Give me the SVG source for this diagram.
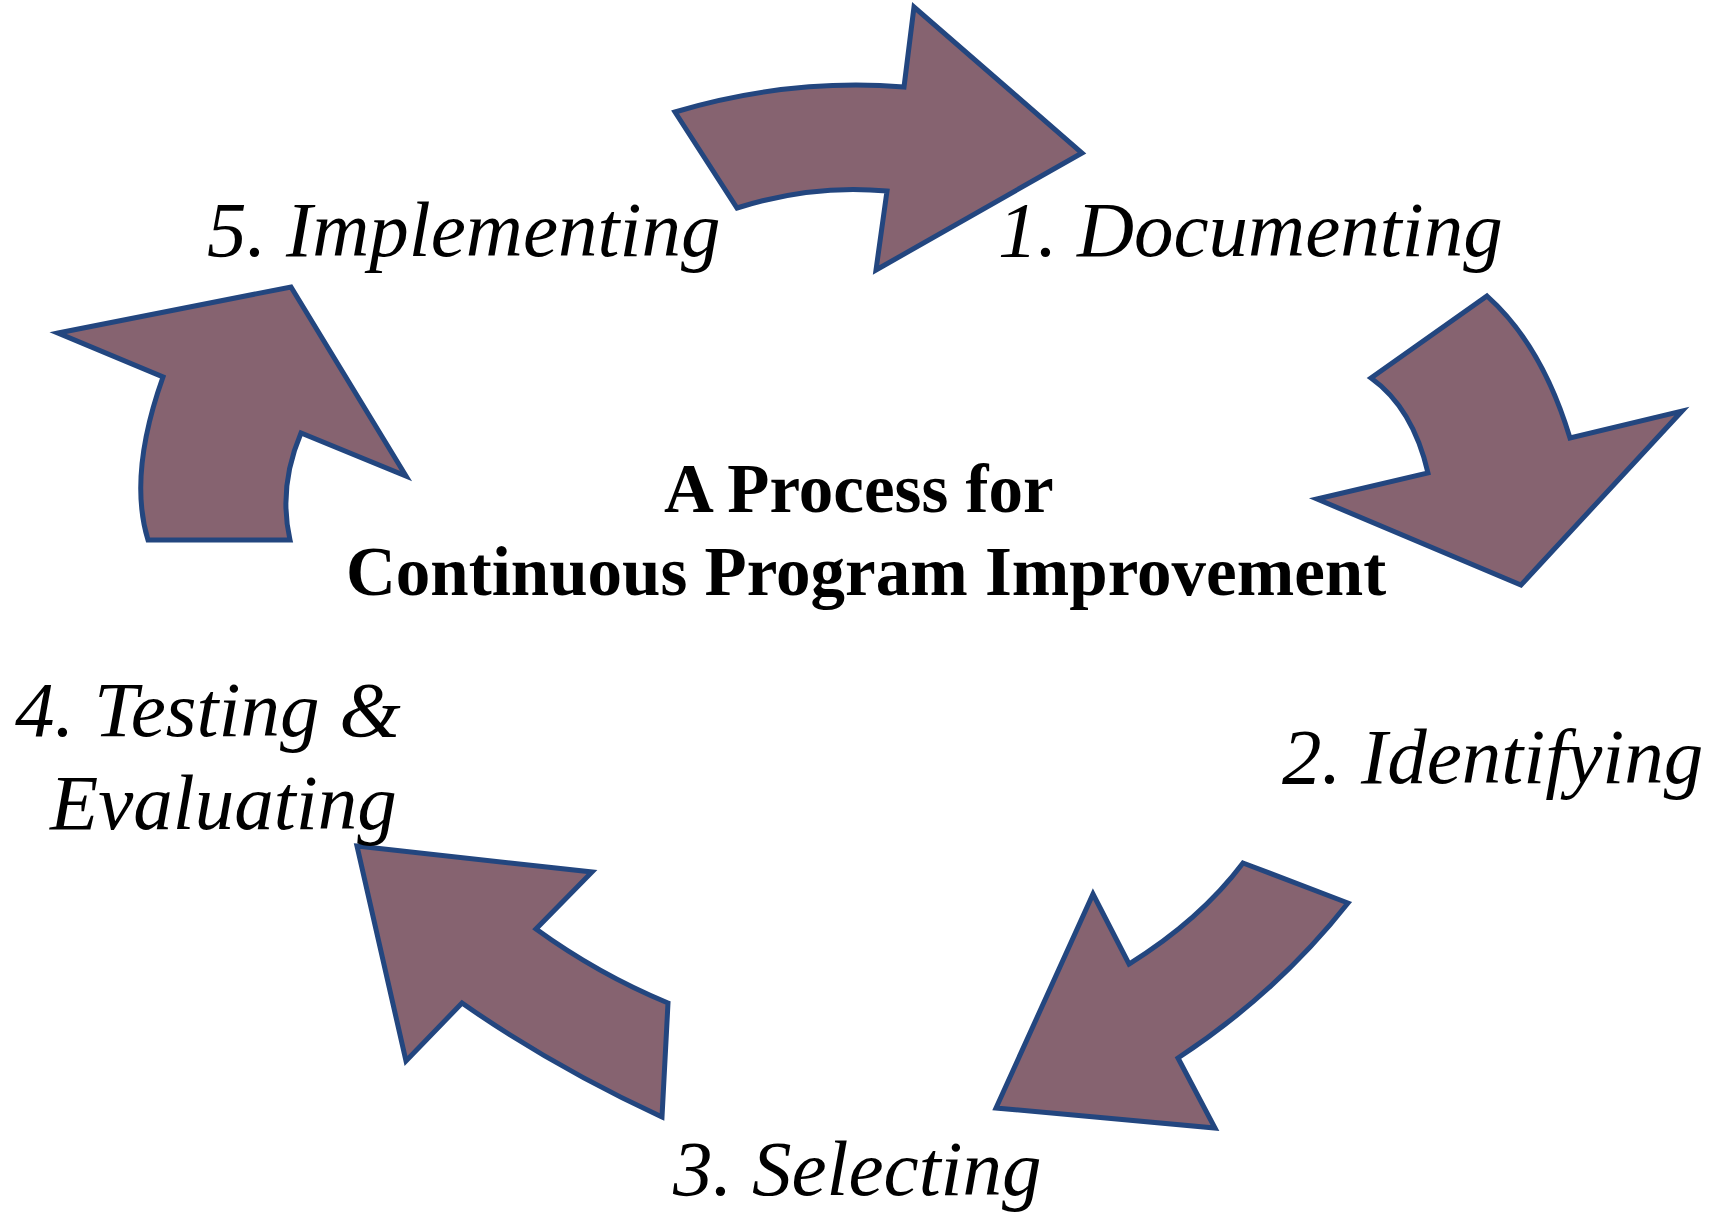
<svg xmlns="http://www.w3.org/2000/svg" width="1723" height="1218" viewBox="0 0 1723 1218">
<style>
.arrow{fill:#866370;stroke:#23467F;stroke-width:5;stroke-linejoin:miter}
.lbl{font-family:"Liberation Serif","Times New Roman",serif;font-style:italic;font-size:79px;fill:#000}
.title{font-family:"Liberation Serif","Times New Roman",serif;font-weight:bold;font-size:69px;fill:#000}
</style>
<rect width="1723" height="1218" fill="#fff"/>
<g id="connectors">
<path id="arrow-5-1" class="arrow" d="M675,112 Q789,78 904,87 L914,7 L1082,153 L876,270 L887,191 Q812,184 737,208 Z"/>
<path id="arrow-1-2" class="arrow" d="M1487,296 Q1542,345 1570,438 L1682,411 L1521,585 L1317,499 L1428,473 Q1413,408 1371,378 Z"/>
<path id="arrow-2-3" class="arrow" d="M1243,863 L1348,903 Q1277,993 1178,1058 L1215,1128 L996,1108 L1093,894 L1129,964 Q1200,920 1243,863 Z"/>
<path id="arrow-3-4" class="arrow" d="M357,846 L592,872 L536,929 Q598,974 668,1003 L662,1117 Q552,1066 462,1003 L406,1061 Z"/>
<path id="arrow-4-5" class="arrow" d="M58,333 L291,287 L406,476 L301,433 Q278,487 290,540 L148,540 Q128,475 163,377 Z"/>
</g>
<g id="title">
<text class="title" x="664" y="512">A Process for</text>
<text class="title" x="346" y="595">Continuous Program Improvement</text>
</g>
<g id="node-1"><text class="lbl" x="998" y="256">1. Documenting</text></g>
<g id="node-2"><text class="lbl" x="1282" y="783">2. Identifying</text></g>
<g id="node-3"><text class="lbl" x="673" y="1195">3. Selecting</text></g>
<g id="node-4"><text class="lbl" x="15" y="736">4. Testing &amp;</text><text class="lbl" x="50" y="829">Evaluating</text></g>
<g id="node-5"><text class="lbl" x="207" y="256">5. Implementing</text></g>
</svg>
